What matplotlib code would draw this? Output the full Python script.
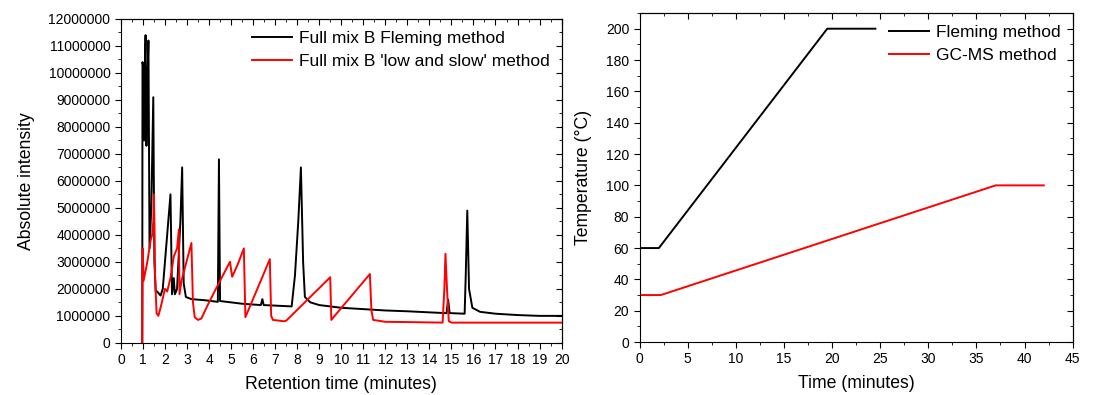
import matplotlib
matplotlib.use("Agg")
import matplotlib.pyplot as plt
from matplotlib.ticker import MultipleLocator, StrMethodFormatter

plt.rcParams['font.family'] = ['Liberation Sans', 'DejaVu Sans']

# chromatogram, intensity in millions
fleming_t = [0.97, 0.98, 1.02, 1.05, 1.08, 1.12, 1.16, 1.2, 1.25, 1.3, 1.38, 1.47, 1.52, 1.58,
             1.65, 1.8, 1.9, 2.25, 2.32, 2.4, 2.45, 2.55, 2.7, 2.78, 2.85, 2.95, 3.2, 3.8,
             4.4, 4.45, 4.5, 5.0, 5.5, 6.35, 6.42, 6.48, 7.0, 7.75, 7.9, 8.05, 8.17, 8.27,
             8.35, 8.6, 9.0, 10.0, 11.0, 12.0, 13.0, 14.0, 14.78, 14.85, 14.92, 15.0, 15.6,
             15.65, 15.72, 15.8, 15.95, 16.3, 17.0, 18.0, 19.0, 20.0]
fleming_i = [0.0, 10.4, 10.2, 7.5, 10.0, 11.4, 7.3, 9.5, 11.2, 3.5, 5.0, 9.1, 3.0, 1.9,
             1.9, 1.75, 2.0, 5.5, 1.8, 2.4, 1.8, 2.0, 4.5, 6.5, 2.2, 1.7, 1.62, 1.58,
             1.52, 6.8, 1.55, 1.5, 1.45, 1.4, 1.62, 1.4, 1.38, 1.35, 2.5, 4.5, 6.5, 3.0,
             1.7, 1.5, 1.4, 1.3, 1.25, 1.2, 1.17, 1.13, 1.1, 1.6, 1.1, 1.1, 1.08,
             2.5, 4.9, 2.0, 1.3, 1.15, 1.08, 1.03, 1.0, 1.0]

slow_t = [0.97, 0.99, 1.03, 1.2, 1.35, 1.42, 1.47, 1.5, 1.55, 1.62, 1.7, 1.8, 2.0, 2.1,
          2.25, 2.4, 2.55, 2.63, 2.66, 2.75, 3.2, 3.27, 3.35, 3.5, 3.65, 4.0, 4.5, 4.95,
          5.05, 5.3, 5.58, 5.65, 6.76, 6.82, 6.9, 7.4, 7.5, 9.5, 9.55, 9.65, 11.3, 11.37,
          11.45, 12.0, 13.0, 14.6, 14.68, 14.73, 14.8, 14.88, 15.0, 17.0, 20.0]
slow_i = [0.0, 3.5, 2.3, 3.0, 3.8, 4.0, 4.5, 5.5, 2.5, 1.1, 1.0, 1.3, 2.0, 1.9,
          2.4, 3.2, 3.5, 4.2, 1.8, 2.3, 3.7, 1.5, 0.95, 0.85, 0.9, 1.5, 2.3, 3.0,
          2.45, 2.9, 3.5, 0.95, 3.1, 1.0, 0.85, 0.8, 0.82, 2.43, 0.85, 0.95, 2.55, 1.2,
          0.85, 0.78, 0.77, 0.75, 2.0, 3.3, 2.0, 0.8, 0.75, 0.75, 0.75]

# oven programmes
fleming_time = [0, 2, 19.5, 24.5]
fleming_temp = [60, 60, 200, 200]
gcms_time = [0, 2.2, 37, 42]
gcms_temp = [30, 30, 100, 100]

fig = plt.figure(figsize=(10.99, 3.95), dpi=100)
ax1 = fig.add_axes([0.110, 0.132, 0.401, 0.820])
ax2 = fig.add_axes([0.582, 0.134, 0.394, 0.833])


def style_axes(ax, xmaj, xmin, ymaj, ymin):
    ax.xaxis.set_major_locator(MultipleLocator(xmaj))
    ax.xaxis.set_minor_locator(MultipleLocator(xmin))
    ax.yaxis.set_major_locator(MultipleLocator(ymaj))
    ax.yaxis.set_minor_locator(MultipleLocator(ymin))
    ax.tick_params(which='both', direction='out', labelsize=10)
    ax.tick_params(which='major', length=4)
    ax.tick_params(which='minor', length=2.5)
    # mirrored ticks pointing inward on top and right
    top = ax.secondary_xaxis('top')
    right = ax.secondary_yaxis('right')
    top.xaxis.set_major_locator(MultipleLocator(xmaj))
    top.xaxis.set_minor_locator(MultipleLocator(xmin))
    right.yaxis.set_major_locator(MultipleLocator(ymaj))
    right.yaxis.set_minor_locator(MultipleLocator(ymin))
    for sec in (top, right):
        sec.tick_params(which='both', direction='in', labelleft=False, labelright=False,
                        labeltop=False, labelbottom=False)
        sec.tick_params(which='major', length=4)
        sec.tick_params(which='minor', length=2.5)


ax1.plot(fleming_t, [v * 1e6 for v in fleming_i], color='black', lw=1.4,
         label='Full mix B Fleming method')
ax1.plot(slow_t, [v * 1e6 for v in slow_i], color='red', lw=1.4,
         label="Full mix B 'low and slow' method")
ax1.set_xlim(0, 20)
ax1.set_ylim(0, 12e6)
style_axes(ax1, 1, 0.5, 1e6, 5e5)
ax1.yaxis.set_major_formatter(StrMethodFormatter('{x:.0f}'))
ax1.set_xlabel('Retention time (minutes)', fontsize=12.7, labelpad=6)
ax1.set_ylabel('Absolute intensity', fontsize=12.7, labelpad=10)
ax1.legend(loc='upper right', frameon=False, fontsize=12.5, handlelength=2.3,
           handletextpad=0.4, borderaxespad=0.3, labelspacing=0.45)

ax2.plot(fleming_time, fleming_temp, color='black', lw=1.4, label='Fleming method')
ax2.plot(gcms_time, gcms_temp, color='red', lw=1.4, label='GC-MS method')
ax2.set_xlim(0, 45)
ax2.set_ylim(0, 210)
style_axes(ax2, 5, 2.5, 20, 10)
ax2.set_xlabel('Time (minutes)', fontsize=12.7, labelpad=6)
ax2.set_ylabel('Temperature (°C)', fontsize=12.7, labelpad=10)
ax2.legend(loc='upper right', frameon=False, fontsize=12.5, handlelength=2.3,
           handletextpad=0.4, borderaxespad=0.3, labelspacing=0.45)

fig.savefig('out.png', dpi=100)
